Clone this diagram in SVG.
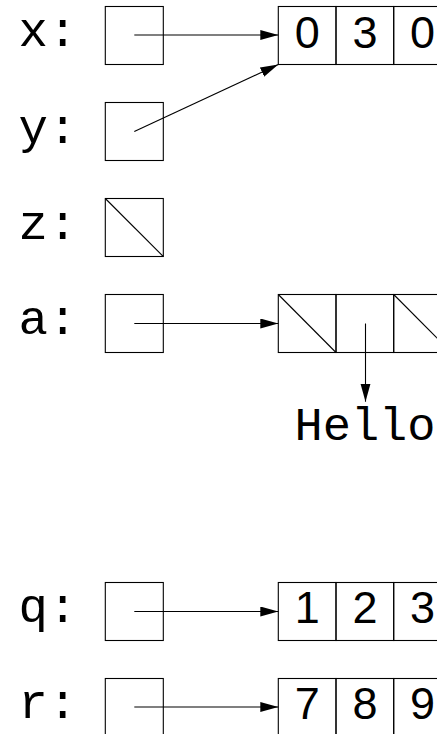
<svg xmlns="http://www.w3.org/2000/svg" width="437" height="734" viewBox="0 0 437 734">
<style>
.box{fill:none;stroke:#000;stroke-width:1.1}
.lbl{font-family:"Liberation Mono","Courier New",monospace;font-size:49px;fill:#000}
.num{font-family:"Liberation Sans",Arial,sans-serif;font-size:45px;fill:#000;text-anchor:middle}
.edge{fill:none;stroke:#000;stroke-width:1.1}
</style>
<defs>
<marker id="ah" markerUnits="userSpaceOnUse" markerWidth="20" markerHeight="12" refX="18" refY="5" orient="auto">
<path d="M0,0 L18,5 L0,10 Z" fill="#000"/>
</marker>
</defs>
<rect width="437" height="734" fill="#fff"/>
<g id="var-x">
<text class="lbl" x="18.5" y="46">x:</text>
<rect class="box" x="105.3" y="6.5" width="58" height="58"/>
</g>
<g id="var-y">
<text class="lbl" x="18.5" y="142.5">y:</text>
<rect class="box" x="105.3" y="102.5" width="58" height="58"/>
</g>
<g id="var-z">
<text class="lbl" x="18.5" y="238.5">z:</text>
<rect class="box" x="105.3" y="198.5" width="58" height="58"/>
<line class="box" x1="105.3" y1="198.5" x2="163.3" y2="256.5"/>
</g>
<g id="var-a">
<text class="lbl" x="18.5" y="334">a:</text>
<rect class="box" x="105.3" y="294.5" width="58" height="58"/>
</g>
<g id="var-q">
<text class="lbl" x="18.5" y="622">q:</text>
<rect class="box" x="105.3" y="582.5" width="58" height="58"/>
</g>
<g id="var-r">
<text class="lbl" x="18.5" y="718">r:</text>
<rect class="box" x="105.3" y="678.5" width="58" height="58"/>
</g>
<g id="arr-030">
<rect class="box" x="278.3" y="6.5" width="57.7" height="58"/>
<rect class="box" x="336" y="6.5" width="57.7" height="58"/>
<rect class="box" x="393.7" y="6.5" width="57.7" height="58"/>
<text class="num" x="307.2" y="48">0</text>
<text class="num" x="364.9" y="48">3</text>
<text class="num" x="422.6" y="48">0</text>
</g>
<g id="arr-a">
<rect class="box" x="278.3" y="294.5" width="57.7" height="58"/>
<rect class="box" x="336" y="294.5" width="57.7" height="58"/>
<rect class="box" x="393.7" y="294.5" width="57.7" height="58"/>
<line class="box" x1="278.3" y1="294.5" x2="336" y2="352.5"/>
<line class="box" x1="393.7" y1="294.5" x2="451.4" y2="352.5"/>
</g>
<g id="str-hello">
<text class="lbl" x="365" y="440" text-anchor="middle" style="font-size:47px">Hello</text>
</g>
<g id="arr-123">
<rect class="box" x="278.3" y="582.5" width="57.7" height="58"/>
<rect class="box" x="336" y="582.5" width="57.7" height="58"/>
<rect class="box" x="393.7" y="582.5" width="57.7" height="58"/>
<text class="num" x="307.2" y="623">1</text>
<text class="num" x="364.9" y="623">2</text>
<text class="num" x="422.6" y="623">3</text>
</g>
<g id="arr-789">
<rect class="box" x="278.3" y="678.5" width="57.7" height="58"/>
<rect class="box" x="336" y="678.5" width="57.7" height="58"/>
<rect class="box" x="393.7" y="678.5" width="57.7" height="58"/>
<text class="num" x="307.2" y="719">7</text>
<text class="num" x="364.9" y="719">8</text>
<text class="num" x="422.6" y="719">9</text>
</g>
<g id="connectors">
<line class="edge" x1="134.3" y1="35" x2="278.3" y2="35" marker-end="url(#ah)"/>
<line class="edge" x1="134.3" y1="131.5" x2="278.3" y2="64.5" marker-end="url(#ah)"/>
<line class="edge" x1="134.3" y1="323.5" x2="278.3" y2="323.5" marker-end="url(#ah)"/>
<line class="edge" x1="365.5" y1="323.5" x2="365.5" y2="401.7" marker-end="url(#ah)"/>
<line class="edge" x1="134.3" y1="611.5" x2="278.3" y2="611.5" marker-end="url(#ah)"/>
<line class="edge" x1="134.3" y1="707" x2="278.3" y2="707" marker-end="url(#ah)"/>
</g>
</svg>
